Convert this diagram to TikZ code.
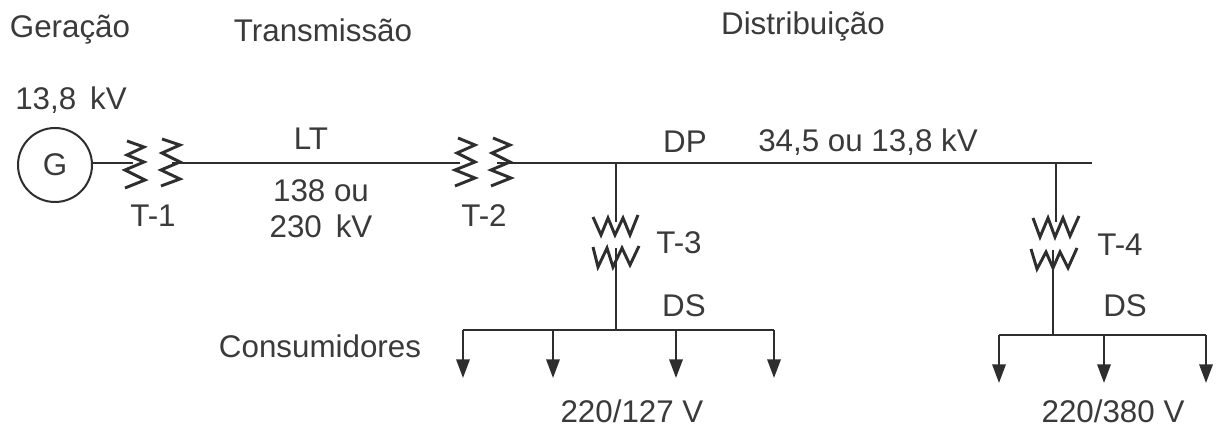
\documentclass[tikz,border=0pt]{standalone}
\usepackage{fontspec}
\setmainfont{Liberation Sans}
\usetikzlibrary{arrows.meta}
\definecolor{ink}{HTML}{2E2E2E}
\definecolor{txt}{HTML}{3A3A3A}
\tikzset{
  lbl/.style={text=txt,font=\fontsize{23.5}{28}\selectfont,inner sep=0pt,anchor=center,align=center},
  wire/.style={draw=ink,line width=2pt},
  thinwire/.style={draw=ink,line width=1.7pt},
  coil/.style={draw=ink,line width=2.2pt,line join=miter},
  drop/.style={draw=ink,line width=1.7pt,-{Triangle[length=14pt,width=10pt]}}
}
\begin{document}
\begin{tikzpicture}[x=0.75pt,y=-0.75pt]
\useasboundingbox[fill=white] (0,0) rectangle (1216,427);
% labels
\node[lbl] at (70,30) {Geração};
\node[lbl] at (323,30) {Transmissão};
\node[lbl] at (803,26) {Distribuição};
\node[lbl] at (71,100) {13,8\, kV};
\node[lbl] at (311,139) {LT};
\node[lbl] at (321,209) {138 ou\\[-1pt]230\, kV};
\node[lbl] at (153,216) {T-1};
\node[lbl] at (484,216) {T-2};
\node[lbl] at (685,142) {DP};
\node[lbl] at (868,142) {34,5 ou 13,8 kV};
\node[lbl] at (679,243) {T-3};
\node[lbl] at (1120,245) {T-4};
\node[lbl] at (684,306) {DS};
\node[lbl] at (1125,306) {DS};
\node[lbl] at (320,346) {Consumidores};
\node[lbl] at (632,411) {220/127 V};
\node[lbl] at (1113,411) {220/380 V};
% generator
\node[draw=ink,line width=1.5pt,circle,minimum size=55.5pt,inner sep=0pt,text=txt,font=\fontsize{23.5}{28}\selectfont] (G) at (55,165) {G};
% named points
\coordinate (t1a) at (133,163);
\coordinate (t1b) at (172,163);
\coordinate (lineA) at (460,163);
\coordinate (t2b) at (497,163);
\coordinate (j3) at (616,163);
\coordinate (j4) at (1056,163);
\coordinate (mainend) at (1092,163);
\coordinate (t3a) at (616,222);
\coordinate (t3b) at (616,248);
\coordinate (b3) at (616,330);
\coordinate (t4a) at (1056,222);
\coordinate (t4b) at (1053,250);
\coordinate (b4) at (1053,335);
\coordinate (b3l) at (463,330);
\coordinate (b3m) at (553,330);
\coordinate (b3n) at (676,330);
\coordinate (b3r) at (774,330);
\coordinate (e3l) at (463,378);
\coordinate (e3m) at (553,378);
\coordinate (e3n) at (676,378);
\coordinate (e3r) at (774,378);
\coordinate (b4l) at (999,335);
\coordinate (b4m) at (1104,335);
\coordinate (b4r) at (1206,335);
\coordinate (e4l) at (999,383);
\coordinate (e4m) at (1104,383);
\coordinate (e4r) at (1206,383);
% wires
\draw[thinwire] (G.east |- t1a) -- (t1a);
\draw[wire] (t1b) -- (lineA);
\draw[wire] (t2b) -- (mainend);
\draw[thinwire] (j3) -- (t3a);
\draw[thinwire] (t3b) -- (b3);
\draw[thinwire] (j4) -- (t4a);
\draw[thinwire] (t4b) -- (b4);
\draw[thinwire] (b3l) -- (b3r);
\draw[thinwire] (b4l) -- (b4r);
\draw[drop] (b3l) -- (e3l);
\draw[drop] (b3m) -- (e3m);
\draw[drop] (b3n) -- (e3n);
\draw[drop] (b3r) -- (e3r);
\draw[drop] (b4l) -- (e4l);
\draw[drop] (b4m) -- (e4m);
\draw[drop] (b4r) -- (e4r);
% T-1
\draw[coil] (127,141)--(144,147)--(127,155)--(144,162)--(125,170)--(145,180)--(125,188);
\draw[coil] (162,139)--(180,145)--(162,153)--(180,162)--(161,170)--(180,179)--(161,186);
% T-2
\draw[coil] (458,138)--(475,145)--(457,153)--(475,162)--(455,170)--(475,178)--(455,186);
\draw[coil] (493,138)--(510,145)--(492,153)--(510,162)--(491,170)--(511,178)--(491,186);
% T-3
\draw[coil] (593,217)--(601,235)--(608,218)--(615,235)--(623,218)--(630,235)--(638,215);
\draw[coil] (593,247)--(598,267)--(607,248)--(613,267)--(622,248)--(630,265)--(639,246);
% T-4
\draw[coil] (1033,218)--(1040,237)--(1048,218)--(1055,237)--(1063,218)--(1070,236)--(1079,216);
\draw[coil] (1031,249)--(1037,269)--(1046,252)--(1053,268)--(1060,252)--(1068,268)--(1077,248);
\end{tikzpicture}
\end{document}
